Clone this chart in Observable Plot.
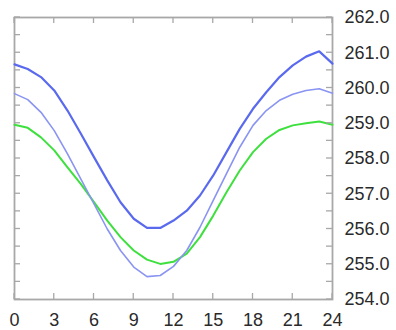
<!DOCTYPE html>
<html>
<head>
<meta charset="utf-8">
<script src="https://cdn.jsdelivr.net/npm/d3@7"></script>
<script src="https://cdn.jsdelivr.net/npm/@observablehq/plot@0.6"></script>
<style>
  html, body { margin: 0; padding: 0; background: #fff; }
  svg { display: block; }
</style>
</head>
<body>
<div id="chart"></div>
<script>
const hours = [0,1,2,3,4,5,6,7,8,9,10,11,12,13,14,15,16,17,18,19,20,21,22,23,24];
const seriesDark = [260.67,260.54,260.31,259.93,259.36,258.71,258.04,257.38,256.76,256.29,256.03,256.03,256.24,256.52,256.95,257.52,258.18,258.84,259.41,259.88,260.31,260.64,260.89,261.04,260.69];
const seriesLight = [259.84,259.67,259.31,258.79,258.13,257.42,256.71,256.00,255.39,254.92,254.65,254.68,254.94,255.39,256.05,256.81,257.57,258.32,258.94,259.36,259.65,259.82,259.93,259.98,259.85];
const seriesGreen = [258.96,258.87,258.60,258.23,257.75,257.28,256.76,256.24,255.77,255.39,255.13,255.01,255.07,255.30,255.77,256.38,257.04,257.66,258.18,258.56,258.81,258.94,259.00,259.05,258.96];
const xTicks = [0,3,6,9,12,15,18,21,24];
const yLabelTicks = [254,255,256,257,258,259,260,261,262];
const yMinorTicks = [254,254.5,255,255.5,256,256.5,257,257.5,258,258.5,259,259.5,260,260.5,261,261.5,262];

const toRows = vals => hours.map((h, i) => ({h, v: vals[i]}));
const frameColor = "#a8a8a8";
const W = 396, H = 330, mL = 14, mR = 64, mT = 17, mB = 31;
const tick = 6;

const chart = Plot.plot({
  width: W,
  height: H,
  marginLeft: mL,
  marginRight: mR,
  marginTop: mT,
  marginBottom: mB,
  style: {fontFamily: "'Liberation Sans', Arial, sans-serif", fontSize: "18px", color: "#2a2a2a", background: "#fff"},
  x: {domain: [0, 24]},
  y: {domain: [254, 262]},
  marks: [
    Plot.axisX({anchor: "bottom", ticks: xTicks, tickSize: 0, tickPadding: 14, label: null, tickFormat: d => String(d)}),
    Plot.axisY({anchor: "right", ticks: yLabelTicks, tickSize: 0, tickPadding: 12, label: null, tickFormat: d => d.toFixed(1)}),
    Plot.frame({stroke: frameColor, strokeWidth: 1.8}),
    Plot.line(toRows(seriesGreen), {x: "h", y: "v", stroke: "#3ee03e", strokeWidth: 2}),
    Plot.line(toRows(seriesLight), {x: "h", y: "v", stroke: "#8a94f2", strokeWidth: 1.6}),
    Plot.line(toRows(seriesDark), {x: "h", y: "v", stroke: "#5a6aee", strokeWidth: 2.2})
  ]
});
// inward tick marks, positioned from the chart's own scales
const xs = chart.scale("x"), ys = chart.scale("y");
const ns = "http://www.w3.org/2000/svg";
const g = document.createElementNS(ns, "g");
g.setAttribute("stroke", frameColor);
g.setAttribute("stroke-width", "1.3");
const y0 = H - mB, yTop = mT, x0 = mL, xRight = W - mR;
function seg(x1, y1, x2, y2) {
  const l = document.createElementNS(ns, "line");
  l.setAttribute("x1", x1); l.setAttribute("y1", y1);
  l.setAttribute("x2", x2); l.setAttribute("y2", y2);
  g.appendChild(l);
}
for (const t of xTicks) {
  const px = xs.apply(t);
  seg(px, y0, px, y0 - tick);
  seg(px, yTop, px, yTop + tick);
}
for (const t of yMinorTicks) {
  const py = ys.apply(t);
  seg(x0, py, x0 + tick, py);
  seg(xRight, py, xRight - tick, py);
}
chart.appendChild(g);
document.getElementById("chart").appendChild(chart);
</script>
</body>
</html>
